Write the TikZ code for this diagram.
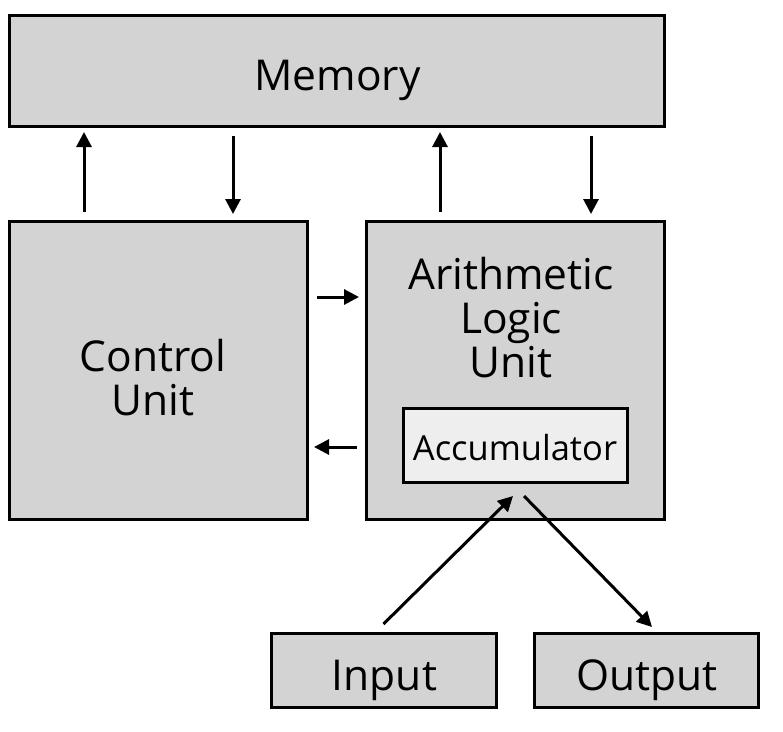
\documentclass[tikz,border=0pt]{standalone}
\usepackage{fontspec}
\setmainfont{Open Sans}
\usetikzlibrary{arrows.meta,calc}
\definecolor{boxgray}{HTML}{D3D3D3}
\definecolor{accgray}{HTML}{EEEEEE}
\tikzset{
  unitbox/.style={draw=black, line width=3pt, fill=boxgray, inner sep=0pt, outer sep=0pt},
  accbox/.style={draw=black, line width=3pt, fill=accgray, inner sep=0pt, outer sep=0pt},
  arr/.style={line width=3pt, -{Triangle[length=15pt,width=15pt]}},
  lbl/.style={align=center, inner sep=0pt, anchor=base, font=\fontsize{42.5}{44}\selectfont},
  smalllbl/.style={inner sep=0pt, anchor=base, font=\fontsize{34.5}{40}\selectfont}
}
\begin{document}
\begin{tikzpicture}[x=1pt,y=-1pt]
\useasboundingbox (0,0) rectangle (783,731);
\node[unitbox, minimum width=655pt, minimum height=111pt] (mem) at (336.5,70.5) {};
\node[unitbox, minimum width=298pt, minimum height=298pt] (cu) at (158,370) {};
\node[unitbox, minimum width=298pt, minimum height=298pt] (alu) at (515,370) {};
\node[accbox, minimum width=224pt, minimum height=74pt] (acc) at (515,445) {};
\node[unitbox, minimum width=225pt, minimum height=74pt] (in) at (383.5,670) {};
\node[unitbox, minimum width=224pt, minimum height=74pt] (out) at (646,670) {};
% labels
\node[lbl] (memtext) at (337.5,90) {Memory};
\node[lbl] (cutext) at (153,415) {Control\\Unit};
\node[lbl] (alutext) at (511,377) {Arithmetic\\Logic\\Unit};
\node[smalllbl] (acctext) at (515,460) {Accumulator};
\node[lbl] (intext) at (384.5,690) {Input};
\node[lbl] (outtext) at (647,690) {Output};
% memory <-> control unit
\draw[arr] ([xshift=75pt,yshift=9pt]cu.north west) -- ([xshift=75pt,yshift=-6pt]cu.north west |- mem.south);
\draw[arr] ([xshift=224pt,yshift=-10pt]cu.north west |- mem.south) -- ([xshift=224pt,yshift=7pt]cu.north west);
% memory <-> alu
\draw[arr] ([xshift=74pt,yshift=9pt]alu.north west) -- ([xshift=74pt,yshift=-6pt]alu.north west |- mem.south);
\draw[arr] ([xshift=225pt,yshift=-10pt]alu.north west |- mem.south) -- ([xshift=225pt,yshift=7pt]alu.north west);
% control unit <-> alu
\draw[arr] ([xshift=10pt,yshift=-76pt]cu.north east) -- ([xshift=-7pt,yshift=-76pt]alu.north west);
\draw[arr] ([xshift=-9pt,yshift=-226pt]alu.north west) -- ([xshift=7pt,yshift=-226pt]cu.north east);
% input / output
\draw[arr] ([yshift=9pt]in.north) -- ([xshift=-2pt,yshift=-14pt]acc.south);
\draw[arr] ([xshift=9pt,yshift=-14pt]acc.south) -- ([xshift=6pt,yshift=6pt]out.north);
\end{tikzpicture}
\end{document}
